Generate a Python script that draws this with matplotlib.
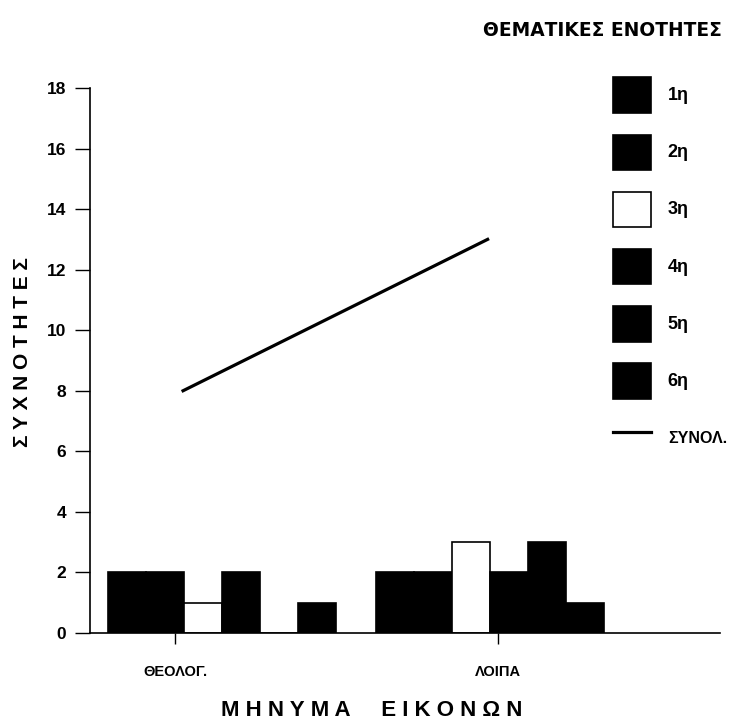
import numpy as np
import matplotlib
matplotlib.use('Agg')
import matplotlib.pyplot as plt
from matplotlib.patches import Patch
from matplotlib.lines import Line2D

plt.rcParams['font.family'] = ['Liberation Sans', 'DejaVu Sans']

# data
categories = ['ΘΕΟΛΟΓ.', 'ΛΟΙΠΑ']
units = ['1η', '2η', '3η', '4η', '5η', '6η']
counts = np.array([
    [2, 2],   # 1η
    [2, 2],   # 2η
    [1, 3],   # 3η
    [2, 2],   # 4η
    [0, 3],   # 5η
    [1, 1],   # 6η
])
total = [8, 13]
total_label = 'ΣΥΝΟΛ.'
yticks = [0, 2, 4, 6, 8, 10, 12, 14, 16, 18]

# layout (bar width = 1 unit)
group_centers = np.array([3.47, 10.53])
tick_pos = [2.24, 10.74]
line_pos = [2.45, 10.47]
fills = ['black', 'black', 'white', 'black', 'black', 'black']

fig = plt.figure(figsize=(7.33, 7.24), dpi=100)
ax = fig.add_axes([0.1228, 0.1257, 0.859, 0.7528])

for i, u in enumerate(units):
    ax.bar(group_centers + (i - 2.5), counts[i], width=1.0,
           color=fills[i], edgecolor='black', linewidth=1.2)

ax.plot(line_pos, total, color='black', lw=2.3)

ax.set_xlim(0, 16.58)
ax.set_ylim(0, 18)
ax.set_yticks(yticks)
ax.set_xticks(tick_pos)
ax.set_xticklabels(categories, fontsize=10.5, fontweight='bold')
ax.tick_params(axis='y', length=11, width=1, pad=6, labelsize=12.5)
ax.tick_params(axis='x', length=8, width=1, pad=15)
for t in ax.get_yticklabels():
    t.set_fontweight('bold')
ax.spines['top'].set_visible(False)
ax.spines['right'].set_visible(False)
for s in ['left', 'bottom']:
    ax.spines[s].set_linewidth(1.2)

ax.set_ylabel('Σ Υ Χ Ν Ο Τ Η Τ Ε Σ', fontsize=15, fontweight='bold')
ax.yaxis.set_label_coords(-0.092, 0.515)
fig.text(0.507, 0.019, 'Μ Η Ν Υ Μ Α     Ε Ι Κ Ο Ν Ω Ν', fontsize=16,
         fontweight='bold', ha='center', va='center')
fig.text(0.985, 0.958, 'ΘΕΜΑΤΙΚΕΣ ΕΝΟΤΗΤΕΣ', fontsize=13.4, fontweight='bold',
         family='DejaVu Sans', ha='right', va='center')

handles = [Patch(facecolor=fills[i], edgecolor='black', linewidth=1.2) for i in range(6)]
handles.append(Line2D([0], [0], color='black', lw=2.3))
leg = fig.legend(handles, units + [total_label], loc='upper left',
                 bbox_to_anchor=(0.836, 0.893), frameon=False, fontsize=12,
                 handlelength=2.3, handleheight=2.9, labelspacing=1.3,
                 handletextpad=1.0, borderpad=0, borderaxespad=0)
for t in leg.get_texts():
    t.set_fontweight('bold')
    t.set_fontsize(13)
leg.get_texts()[-1].set_fontsize(11.5)

fig.savefig('out.png', dpi=100)
